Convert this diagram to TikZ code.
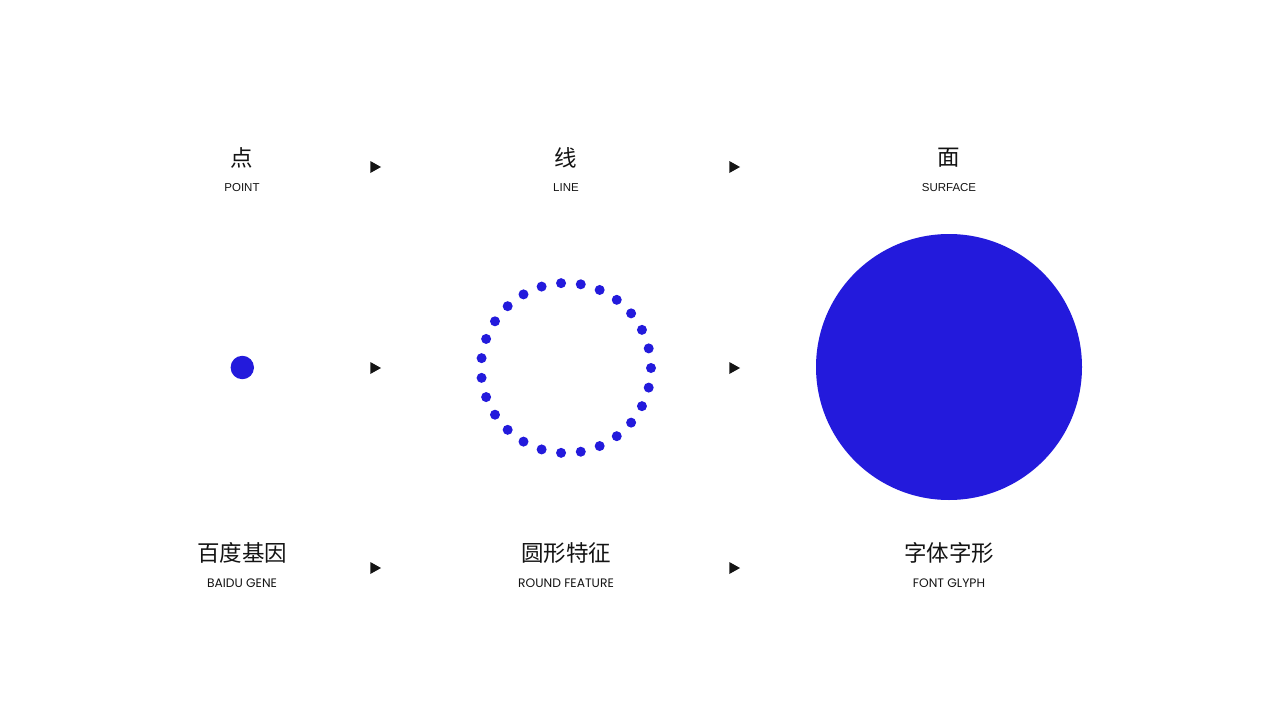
\documentclass[tikz,border=0pt]{standalone}
\usepackage{fontspec}
\newfontfamily\cjk{Noto Sans CJK SC}
\newfontfamily\lab{Liberation Sans}
\newfontfamily\labb{Poppins}
\definecolor{brandblue}{RGB}{35,26,220}
\definecolor{ink}{RGB}{20,20,20}
\begin{document}
\begin{tikzpicture}[x=1pt,y=-1pt,
  zh/.style={inner sep=0pt,font=\cjk\fontsize{22.5}{22.5}\selectfont,text=ink},
  en/.style={inner sep=0pt,font=\lab\fontsize{11.5}{11.5}\selectfont,text=ink},
  enb/.style={inner sep=0pt,font=\labb\fontsize{12.3}{12.3}\selectfont,text=ink},
  tri/.style={fill=ink},
  dotc/.style={fill=brandblue}]
\useasboundingbox (0,0) rectangle (1280,720);
\fill[white] (0,0) rectangle (1280,720);
% top row
\node[zh] (t1) at (242,158) {点};
\node[en] (e1) at (242,188) {POINT};
\node[zh] (t2) at (566,158) {线};
\node[en] (e2) at (566,188) {LINE};
\node[zh] (t3) at (949,158) {面};
\node[en] (e3) at (949,188) {SURFACE};
% bottom row
\node[zh] (b1) at (242,553) {百度基因};
\node[enb] (f1) at (242,583) {BAIDU GENE};
\node[zh] (b2) at (566,553) {圆形特征};
\node[enb] (f2) at (566,583) {ROUND FEATURE};
\node[zh] (b3) at (949,553) {字体字形};
\node[enb] (f3) at (949,583) {FONT GLYPH};
% arrows
\foreach \ax in {375.5,734.5}{
  \foreach \ay in {167,368,568}{
    \fill[tri] (\ax-5.2,\ay-6) -- (\ax+5.5,\ay) -- (\ax-5.2,\ay+6) -- cycle;
  }
}
% point
\fill[dotc] (242.3,367.5) circle (11.7);
% dotted circle
\foreach \k in {0,...,26}{
  \fill[dotc] (566,368) ++({\k*360/27}:85) circle (5);
}
% surface
\fill[dotc] (949,367) circle (133);
\end{tikzpicture}
\end{document}
